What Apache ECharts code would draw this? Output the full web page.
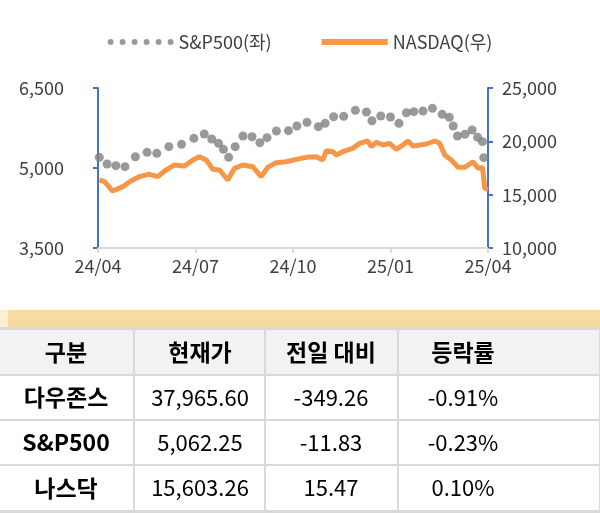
<!DOCTYPE html>
<html><head><meta charset="utf-8">
<script src="https://cdn.jsdelivr.net/npm/echarts@6/dist/echarts.min.js"></script>
<style>html,body{margin:0;padding:0;background:#fff}#c{width:600px;height:513px}</style>
</head><body><div id="c"></div>
<script>
const xTickLabels = ['24/04','24/07','24/10','25/01','25/04'];
const spValues = [5200,5075,5044,5025,5212,5294,5275,5400,5444,5556,5637,5544,5462,5350,5200,5400,5600,5587,5475,5569,5694,5700,5787,5856,5775,5837,5962,5969,6081,6050,5887,5975,5956,5837,6037,6056,6069,6119,6006,5950,5787,5600,5631,5712,5575,5494,5194];
const spMonths = [0.04,0.28,0.55,0.83,1.15,1.51,1.81,2.18,2.57,2.95,3.27,3.5,3.71,3.86,4.02,4.22,4.46,4.74,4.98,5.2,5.49,5.86,6.12,6.43,6.78,6.99,7.25,7.56,7.92,8.26,8.43,8.7,9.0,9.26,9.49,9.72,10.0,10.29,10.59,10.81,10.93,11.06,11.29,11.51,11.68,11.83,11.87];
const nqMonths = [0.04,0.2,0.45,0.76,1.02,1.27,1.58,1.84,2.09,2.35,2.66,2.92,3.12,3.33,3.53,3.74,3.99,4.2,4.46,4.76,5.02,5.22,5.48,5.79,6.1,6.41,6.71,6.92,7.02,7.23,7.33,7.53,7.84,8.05,8.3,8.41,8.56,8.77,8.97,9.18,9.38,9.54,9.69,9.9,10.1,10.36,10.51,10.67,10.87,11.08,11.28,11.54,11.69,11.83,11.9,12.0];
const nqValues = [16375,16220,15340,15750,16310,16690,16910,16690,17310,17780,17690,18250,18560,18250,17380,17310,16375,17470,17780,17620,16690,17560,18000,18090,18310,18500,18560,18250,19120,19030,18720,19030,19340,19810,20030,19500,19910,19660,19810,19250,19660,20030,19560,19660,19750,20030,19810,18720,18250,17560,17560,18090,17470,17560,15590,15500];
const tableHeader = ['구분','현재가','전일 대비','등락률'];
const tableRows = [
  ['다우존스','37,965.60','-349.26','-0.91%'],
  ['S&P500','5,062.25','-11.83','-0.23%'],
  ['나스닥','15,603.26','15.47','0.10%']
];

const F = '"Noto Sans CJK KR","Noto Sans",sans-serif';
const colX = [0,134,265,398,600];
const colCenter = [66,200,331,463];
const rowY = [329,375,420,465,511];
const graphic = [];
graphic.push({type:'rect',shape:{x:0,y:310,width:600,height:17},style:{fill:'#F7DCA2'}});
graphic.push({type:'rect',shape:{x:0,y:310,width:8,height:17},style:{fill:'#FCEFD4'}});
graphic.push({type:'rect',shape:{x:0,y:rowY[0]-2,width:600,height:rowY[4]-rowY[0]+4},style:{fill:'#D9D9D9'}});
for (let r=0;r<4;r++){
  for (let c=0;c<4;c++){
    const x0=colX[c]+(c?1:0), x1=colX[c+1]-1, y0=rowY[r]+1, y1=rowY[r+1]-1;
    graphic.push({type:'rect',shape:{x:x0,y:y0,width:x1-x0,height:y1-y0},style:{fill:r===0?'#F2F2F2':'#FFFFFF'}});
    const txt = r===0?tableHeader[c]:tableRows[r-1][c];
    const bold = (r===0||c===0);
    graphic.push({type:'text',x:colCenter[c],y:(y0+y1)/2,style:{text:txt,fill:'#000',font:(bold?'bold 23px ':'22px ')+F,align:'center',verticalAlign:'middle'}});
  }
}
let dotsPath='path://';
for (let i=0;i<6;i++) dotsPath += `M${i*4},1a1,1 0 1,0 2,0a1,1 0 1,0 -2,0z`;

const chart = echarts.init(document.getElementById('c'));
chart.setOption({
  animation:false,
  textStyle:{fontFamily:F},
  legend:{top:28,left:'center',itemGap:50,itemWidth:66,itemHeight:6,
    textStyle:{fontSize:18,color:'#404040',fontFamily:F},
    data:[{name:'S&P500(좌)',icon:dotsPath,itemStyle:{color:'#7F7F7F'}},
          {name:'NASDAQ(우)',icon:'path://M0,0h66v6h-66z',itemStyle:{color:'#F79646'}}]},
  grid:{left:98,right:112,top:88,bottom:265},
  xAxis:{type:'value',min:0,max:12,interval:3,
    axisLine:{lineStyle:{color:'#D9D9D9',width:2}},
    axisTick:{show:true,length:5,lineStyle:{color:'#D9D9D9',width:2}},
    splitLine:{show:false},
    axisLabel:{fontSize:18,color:'#404040',margin:9,formatter:v=>xTickLabels[Math.round(v/3)]}},
  yAxis:[
    {type:'value',min:3500,max:6500,interval:1500,position:'left',
     axisLine:{show:true,lineStyle:{color:'#4472C4',width:2}},
     axisTick:{show:true,length:5,lineStyle:{color:'#4472C4',width:2}},
     splitLine:{show:false},
     axisLabel:{fontSize:18,color:'#404040',margin:34,formatter:v=>v.toLocaleString('en-US')}},
    {type:'value',min:10000,max:25000,interval:5000,position:'right',
     axisLine:{show:true,lineStyle:{color:'#4472C4',width:2}},
     axisTick:{show:true,length:5,lineStyle:{color:'#4472C4',width:2}},
     splitLine:{show:false},
     axisLabel:{fontSize:18,color:'#404040',margin:14,formatter:v=>v.toLocaleString('en-US')}}
  ],
  series:[
    {name:'NASDAQ(우)',type:'line',yAxisIndex:1,showSymbol:false,symbol:'none',z:2,
     data:nqMonths.map((m,i)=>[m,nqValues[i]]),
     itemStyle:{color:'#F79646'},
     lineStyle:{color:'#F79646',width:5}},
    {name:'S&P500(좌)',type:'scatter',yAxisIndex:0,symbol:'circle',symbolSize:9,z:3,
     data:spMonths.map((m,i)=>[m,spValues[i]]),
     itemStyle:{color:'#7F7F7F'}}
  ],
  graphic:graphic
});
</script></body></html>
